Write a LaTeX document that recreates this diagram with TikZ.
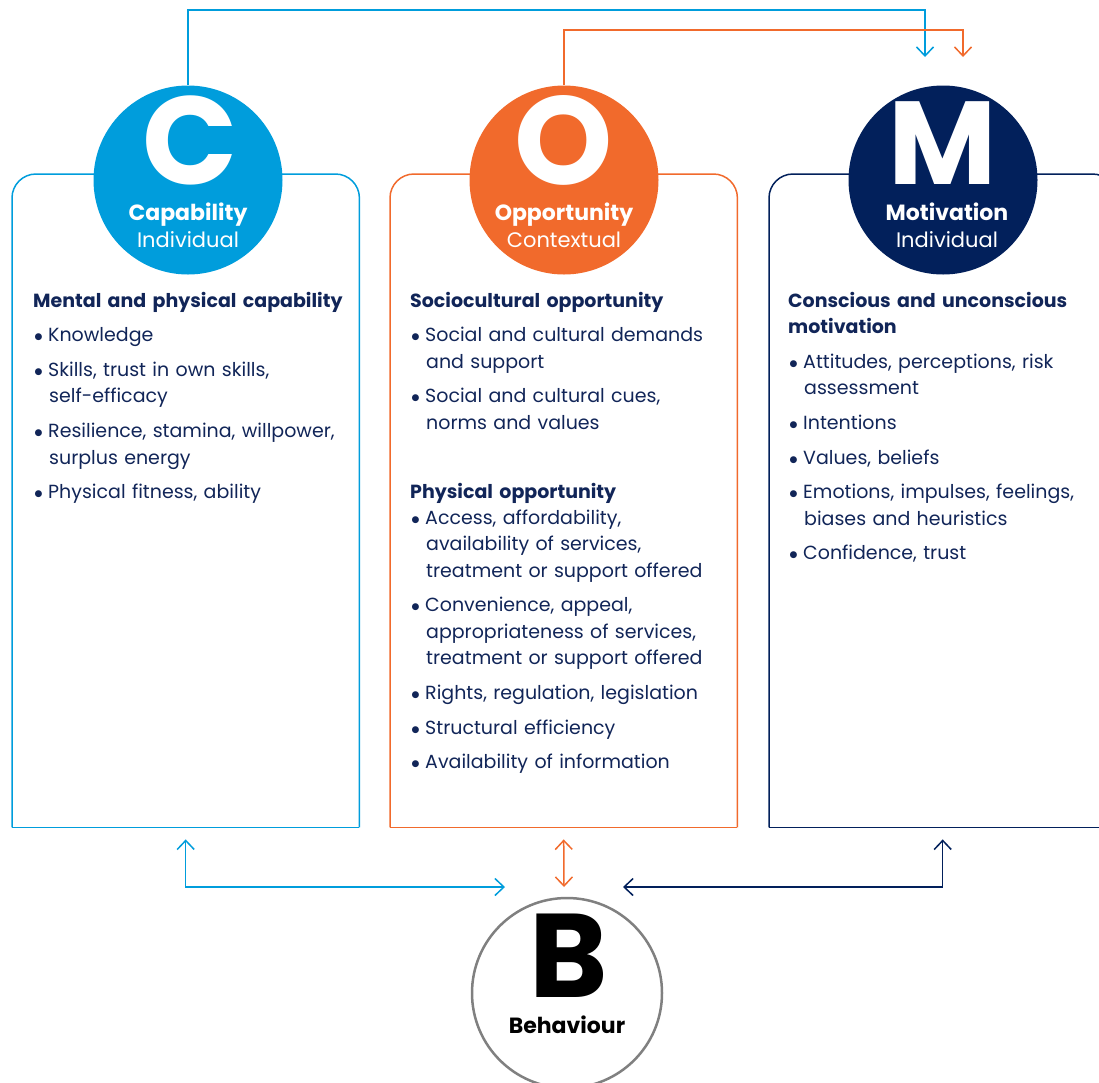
\documentclass[tikz,border=0pt]{standalone}
\usepackage{fontspec}
\setmainfont{Poppins}
\newfontfamily\symfont{DejaVu Sans}
\usetikzlibrary{arrows.meta,positioning}

\definecolor{capblue}{RGB}{0,157,220}
\definecolor{opporange}{RGB}{241,106,44}
\definecolor{motnavy}{RGB}{2,32,91}
\definecolor{textnavy}{RGB}{17,37,88}
\definecolor{behgray}{RGB}{128,128,128}

\newcommand{\bul}{\hspace*{1.5pt}\makebox[13.5pt][l]{\raisebox{2pt}{\symfont\fontsize{9}{9}\selectfont ●}}}
\newcommand{\cont}{\hspace*{16pt}}

\begin{document}
\begin{tikzpicture}[x=1pt, y=-1pt,
    letter/.style={circle, minimum size=189pt, inner sep=0pt},
    boxarea/.style={rectangle, minimum width=347pt, minimum height=653pt, inner sep=0pt, anchor=north west},
    frame/.style={line width=1.5pt, rounded corners=24pt},
    boxtext/.style={anchor=base west, align=left, inner sep=0pt, text width=380pt, text=textnavy, font=\fontsize{19}{26.3}\selectfont},
    big/.style={anchor=base, inner sep=0pt, font=\fontsize{125}{125}\selectfont\bfseries},
    title/.style={anchor=base, inner sep=0pt, text=white, font=\fontsize{22}{22}\selectfont\bfseries},
    sub/.style={anchor=base, inner sep=0pt, text=white, font=\fontsize{21}{21}\selectfont},
    oneway/.style={line width=1.5pt, -{Straight Barb[length=9pt,width=17pt]}},
    twoway/.style={line width=1.5pt, {Straight Barb[length=9pt,width=17pt]}-{Straight Barb[length=9pt,width=17pt]}}]

    \clip (0,0) rectangle (1099,1082);

    % boxes
    \node[boxarea] (capbox) at (12,174) {};
    \node[boxarea] (oppbox) at (390,174) {};
    \node[boxarea] (motbox) at (769,174) {};
    \draw[frame, capblue] (capbox.south west) |- (capbox.north east) -- (capbox.south east);
    \draw[line width=1.5pt, capblue] (capbox.south west) -- (capbox.south east);
    \draw[frame, opporange] (oppbox.south west) |- (oppbox.north east) -- (oppbox.south east);
    \draw[line width=1.5pt, opporange] (oppbox.south west) -- (oppbox.south east);
    \draw[frame, motnavy] (motbox.south west) |- (motbox.north east) -- (motbox.south east);
    \draw[line width=1.5pt, motnavy] (motbox.south west) -- (motbox.south east);

    % circles
    \node[letter, fill=capblue] (cap) at (188,180) {};
    \node[letter, fill=opporange] (opp) at (564,180) {};
    \node[letter, fill=motnavy] (mot) at (943,180) {};
    \node[letter, draw=behgray, line width=2.5pt, fill=white, minimum size=190pt] (beh) at (567,993) {};

    \node[big, text=white] (capL) at (190,184) {C};
    \node[title] (capT) at (188,220) {Capability};
    \node[sub] (capS) at (188,247) {Individual};
    \node[big, text=white] (oppL) at (564,184) {O};
    \node[title] (oppT) at (564,220) {Opportunity};
    \node[sub] (oppS) at (564,247) {Contextual};
    \node[big, text=white, font=\fontsize{118}{118}\selectfont\bfseries] (motL) at (943,184) {M};
    \node[title] (motT) at (947,220) {Motivation};
    \node[sub] (motS) at (947,247) {Individual};
    \node[big, text=black, font=\fontsize{119}{119}\selectfont\bfseries] (behL) at (569,997) {B};
    \node[title, text=black] (behT) at (567,1033) {Behaviour};

    % box texts
    \node[boxtext] (captext) at (33,307) {\textbf{Mental and physical capability}\\[8.5pt]
        \bul Knowledge\\[8.5pt]
        \bul Skills, trust in own skills,\\
        \cont self-efficacy\\[8.5pt]
        \bul Resilience, stamina, willpower,\\
        \cont surplus energy\\[8.5pt]
        \bul Physical fitness, ability};
    \node[boxtext] (opptext) at (410,307) {\textbf{Sociocultural opportunity}\\[8.5pt]
        \bul Social and cultural demands\\
        \cont and support\\[8.5pt]
        \bul Social and cultural cues,\\
        \cont norms and values\\[42.7pt]
        \textbf{Physical opportunity}\\
        \bul Access, affordability,\\
        \cont availability of services,\\
        \cont treatment or support offered\\[8.5pt]
        \bul Convenience, appeal,\\
        \cont appropriateness of services,\\
        \cont treatment or support offered\\[8.5pt]
        \bul Rights, regulation, legislation\\[8.5pt]
        \bul Structural efficiency\\[8.5pt]
        \bul Availability of information};
    \node[boxtext] (mottext) at (788,307) {\textbf{Conscious and unconscious}\\
        \textbf{motivation}\\[8.5pt]
        \bul Attitudes, perceptions, risk\\
        \cont assessment\\[8.5pt]
        \bul Intentions\\[8.5pt]
        \bul Values, beliefs\\[8.5pt]
        \bul Emotions, impulses, feelings,\\
        \cont biases and heuristics\\[8.5pt]
        \bul Confidence, trust};

    % links to motivation
    \coordinate (capin) at (925,57);
    \coordinate (oppin) at (963,57);
    \draw[oneway, capblue] (cap.north) -- (cap.north |- 0,10) -| (capin);
    \draw[oneway, opporange] (opp.north) -- (opp.north |- 0,30) -| (oppin);

    % links to behaviour
    \coordinate (capup) at ([yshift=-12pt]capbox.south);
    \coordinate (oppup) at ([yshift=-12pt]oppbox.south);
    \coordinate (motup) at ([yshift=-12pt]motbox.south);
    \coordinate (behW) at (505,887);
    \coordinate (behN) at (564,887);
    \coordinate (behE) at (623,887);
    \draw[twoway, capblue] (capup) |- (behW);
    \draw[twoway, opporange] (oppup) -- (behN);
    \draw[twoway, motnavy] (motup) |- (behE);
\end{tikzpicture}
\end{document}
